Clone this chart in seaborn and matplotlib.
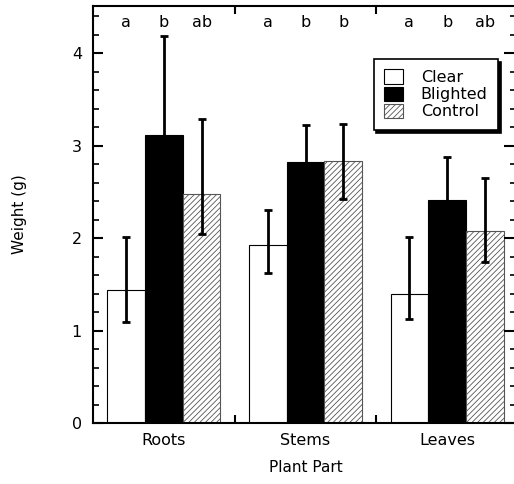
import matplotlib
matplotlib.use("Agg")
import matplotlib.pyplot as plt
import seaborn as sns
import pandas as pd
import numpy as np
from matplotlib.ticker import MultipleLocator, FixedLocator

parts = ["Roots", "Stems", "Leaves"]
groups = ["Clear", "Blighted", "Control"]
clear = [1.44, 1.93, 1.40]
blighted = [3.12, 2.82, 2.41]
control = [2.48, 2.83, 2.08]
clear_lo = [1.09, 1.62, 1.13]
clear_hi = [2.01, 2.30, 2.01]
blighted_lo = [2.06, 2.42, 1.94]
blighted_hi = [4.19, 3.22, 2.88]
control_lo = [2.04, 2.42, 1.74]
control_hi = [3.29, 3.23, 2.65]
letters = [["a", "b", "ab"], ["a", "b", "b"], ["a", "b", "ab"]]

sns.set_style("ticks")
plt.rcParams["font.family"] = ["DejaVu Sans"]
plt.rcParams["hatch.linewidth"] = 0.6
plt.rcParams["text.color"] = "black"
plt.rcParams["axes.labelcolor"] = "black"
plt.rcParams["xtick.color"] = "black"
plt.rcParams["ytick.color"] = "black"
plt.rcParams["axes.edgecolor"] = "black"

rows = []
for i, p in enumerate(parts):
    for g, vals in zip(groups, [clear, blighted, control]):
        rows.append({"Part": p, "Group": g, "Weight": vals[i]})
df = pd.DataFrame(rows)

fig = plt.figure(figsize=(5.14, 4.84), dpi=100)
ax = fig.add_axes([93/514, 61/484, 425/514, 417/484])

sns.barplot(data=df, x="Part", y="Weight", hue="Group", order=parts,
            hue_order=groups, palette=["white", "black", "white"],
            errorbar=None, width=0.8, ax=ax, legend=False, saturation=1)

bar_conts = list(ax.containers)[:3]
los = [clear_lo, blighted_lo, control_lo]
his = [clear_hi, blighted_hi, control_hi]
for k, cont in enumerate(bar_conts):
    for i, bar in enumerate(list(cont.patches)):
        if k == 2:
            bar.set_edgecolor("#555555"); bar.set_linewidth(0.8)
            bar.set_hatch("//////")
        else:
            bar.set_edgecolor("black"); bar.set_linewidth(0.8)
        xc = bar.get_x() + bar.get_width() / 2
        h = bar.get_height()
        ax.errorbar([xc], [h], yerr=[[h - los[k][i]], [his[k][i] - h]],
                    fmt="none", ecolor="black", elinewidth=2, capsize=3,
                    capthick=2, zorder=5)
        ax.text(xc, 4.33, letters[i][k], ha="center", va="center",
                fontsize=11.5, color="black")

ax.set_ylim(0, 4.51)
ax.set_xlim(-0.5, 2.5)
ax.yaxis.set_major_locator(MultipleLocator(1))
ax.yaxis.set_minor_locator(MultipleLocator(0.2))
ax.tick_params(axis="y", which="major", direction="in", length=7, width=1.5,
               right=False, labelsize=11.5, pad=8)
ax.tick_params(axis="y", which="minor", direction="in", length=4, width=1.2,
               right=False)
ax.xaxis.set_major_locator(FixedLocator([0.5, 1.5]))
ax.xaxis.set_minor_locator(FixedLocator([0, 1, 2]))
ax.xaxis.set_major_formatter(matplotlib.ticker.NullFormatter())
ax.xaxis.set_minor_formatter(matplotlib.ticker.FixedFormatter(parts))
ax.tick_params(axis="x", which="major", direction="in", length=6, width=1.5,
               top=True)
ax.tick_params(axis="x", which="minor", length=0, labelsize=11.5, pad=7)
for s in ax.spines.values():
    s.set_linewidth(1.5)
    s.set_visible(True)
ax.spines["right"].set_visible(False)

# right-side ticks
ax2 = ax.twinx()
ax2.set_ylim(ax.get_ylim())
ax2.yaxis.set_major_locator(MultipleLocator(1))
ax2.yaxis.set_minor_locator(MultipleLocator(0.2))
ax2.tick_params(axis="y", which="major", direction="in", length=10, width=1.5,
                labelright=False)
ax2.tick_params(axis="y", which="minor", direction="in", length=6, width=1.2)
for s in ax2.spines.values():
    s.set_visible(False)

ax.set_xlabel("Plant Part", fontsize=11, labelpad=9)
ax.set_ylabel("Weight (g)", fontsize=11, labelpad=32)

handles = [bar_conts[0].patches[0], bar_conts[1].patches[0], bar_conts[2].patches[0]]
leg = ax2.legend(handles, groups, loc="upper right",
                 bbox_to_anchor=(0.953, 0.873), frameon=True, fancybox=False,
                 shadow={"color": "black", "alpha": 1}, edgecolor="black",
                 fontsize=11.5, handlelength=1.2, handleheight=1.0,
                 handletextpad=1.1, labelspacing=0.1, borderpad=0.65,
                 borderaxespad=0, framealpha=1)
leg.get_frame().set_linewidth(1.2)

fig.savefig("out.png", dpi=100)
